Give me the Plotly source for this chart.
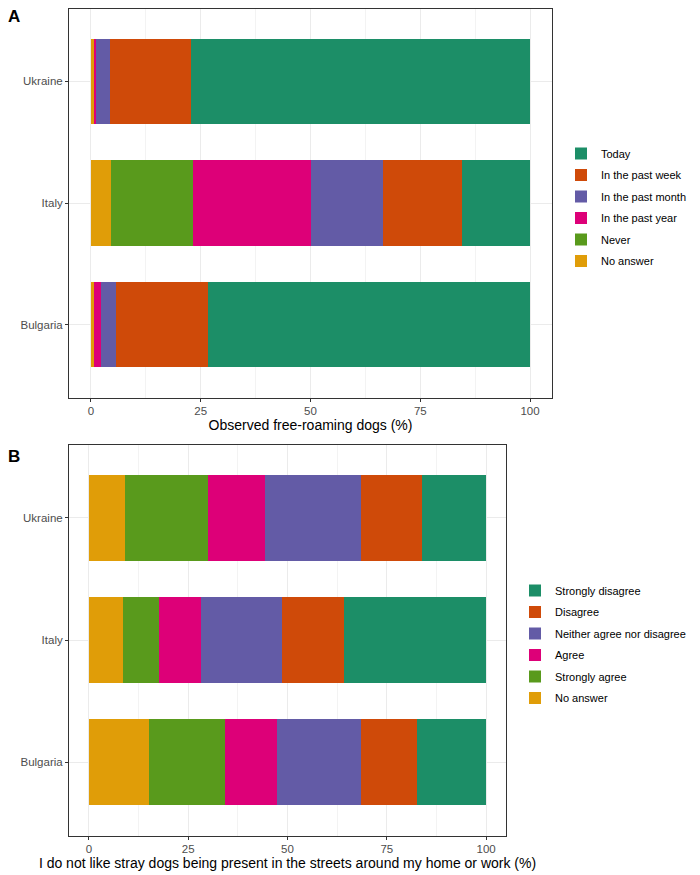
import plotly.graph_objects as go

# the page body adds an 8px margin, so the figure is drawn 8px smaller
OFF = 8
W, H = 700 - OFF, 875 - OFF

# countries, bottom to top on the y axis
countries = ["Bulgaria", "Italy", "Ukraine"]

# Panel A: last time free-roaming dogs were observed (%), Bulgaria / Italy / Ukraine
seen_levels = ["No answer", "Never", "In the past year", "In the past month",
               "In the past week", "Today"]
seen_no_answer = [0.7, 4.6, 0.7]
seen_never = [0.0, 18.7, 0.0]
seen_year = [1.7, 26.9, 0.4]
seen_month = [3.3, 16.2, 3.2]
seen_week = [21.0, 18.1, 18.5]
seen_today = [73.3, 15.5, 77.2]

# Panel B: "I do not like stray dogs being present..." (%)
like_levels = ["No answer", "Strongly agree", "Agree", "Neither agree nor disagree",
               "Disagree", "Strongly disagree"]
like_no_answer = [15.1, 8.6, 9.0]
like_strongly_agree = [19.2, 9.0, 21.0]
like_agree = [13.1, 10.5, 14.4]
like_neither = [21.2, 20.5, 24.2]
like_disagree = [14.1, 15.5, 15.3]
like_strongly_disagree = [17.3, 35.9, 16.1]

x_ticks = [0, 25, 50, 75, 100]

# Dark2-like colours, in stacking order
colors = ["#E09D08", "#599A1C", "#DD0078", "#635BA6", "#CF4A09", "#1C8E67"]

seen_values = [seen_no_answer, seen_never, seen_year, seen_month, seen_week, seen_today]
like_values = [like_no_answer, like_strongly_agree, like_agree, like_neither,
               like_disagree, like_strongly_disagree]

fig = go.Figure()

# legend lists the last stacked level first
for i, (lvl, vals, col) in enumerate(zip(seen_levels, seen_values, colors)):
    fig.add_trace(go.Bar(
        y=countries, x=vals, name=lvl, orientation="h",
        marker=dict(color=col, line=dict(width=0)),
        width=0.7, xaxis="x", yaxis="y",
        legend="legend", legendgroup="a_" + lvl, legendrank=100 - i,
    ))

for i, (lvl, vals, col) in enumerate(zip(like_levels, like_values, colors)):
    fig.add_trace(go.Bar(
        y=countries, x=vals, name=lvl, orientation="h",
        marker=dict(color=col, line=dict(width=0)),
        width=0.7, xaxis="x2", yaxis="y2",
        legend="legend2", legendgroup="b_" + lvl, legendrank=100 - i,
    ))


def px_x(p):
    return (p - OFF) / W


def px_y(p):
    return min(1.0, 1 - (p - OFF) / H)


FONT = "Liberation Sans, Arial, sans-serif"
axis_font = dict(family=FONT, size=11.5, color="#4D4D4D")
frame = dict(showline=True, linecolor="#333333", linewidth=1, mirror=True,
             ticks="outside", ticklen=3, tickcolor="#333333", tickwidth=1,
             gridcolor="#EBEBEB", gridwidth=1, zeroline=False, tickfont=axis_font)

xa = dict(frame, range=[-5, 105], tickvals=x_ticks,
          minor=dict(showgrid=True, gridcolor="#F3F3F3", gridwidth=0.6,
                     tickvals=[12.5, 37.5, 62.5, 87.5], ticks=""))
ya = dict(frame, type="category", categoryorder="array", categoryarray=countries,
          range=[-0.6, 2.6])

title_font = dict(family=FONT, size=14, color="#000000")
legend_font = dict(family=FONT, size=11, color="#000000")

fig.update_layout(
    width=W, height=H,
    margin=dict(l=0, r=0, t=0, b=0, autoexpand=False),
    paper_bgcolor="white", plot_bgcolor="white",
    barmode="stack", bargap=0.3,
    font=dict(family=FONT),
    xaxis=dict(xa, domain=[px_x(69), px_x(552)], anchor="y",
               title=dict(text="Observed free-roaming dogs (%)", font=title_font, standoff=1)),
    yaxis=dict(ya, domain=[px_y(397.5), px_y(8.5)], anchor="x"),
    xaxis2=dict(xa, domain=[px_x(69), px_x(506)], anchor="y2",
                title=dict(text="I do not like stray dogs being present in the streets "
                                "around my home or work (%)", font=title_font, standoff=1)),
    yaxis2=dict(ya, domain=[px_y(835.5), px_y(444.5)], anchor="x2"),
    legend=dict(x=px_x(561), y=px_y(139), xanchor="left", yanchor="top",
                traceorder="grouped", tracegroupgap=2.5, font=legend_font),
    legend2=dict(x=px_x(515), y=px_y(576), xanchor="left", yanchor="top",
                 traceorder="grouped", tracegroupgap=2.5, font=legend_font),
    annotations=[
        dict(text="<b>A</b>", x=px_x(6), y=1 - (5 - OFF) / H, xref="paper", yref="paper",
             xanchor="left", yanchor="top", showarrow=False,
             font=dict(family=FONT, size=17, color="#000000")),
        dict(text="<b>B</b>", x=px_x(6), y=px_y(445), xref="paper", yref="paper",
             xanchor="left", yanchor="top", showarrow=False,
             font=dict(family=FONT, size=17, color="#000000")),
    ],
)

fig.write_html("out.html")
